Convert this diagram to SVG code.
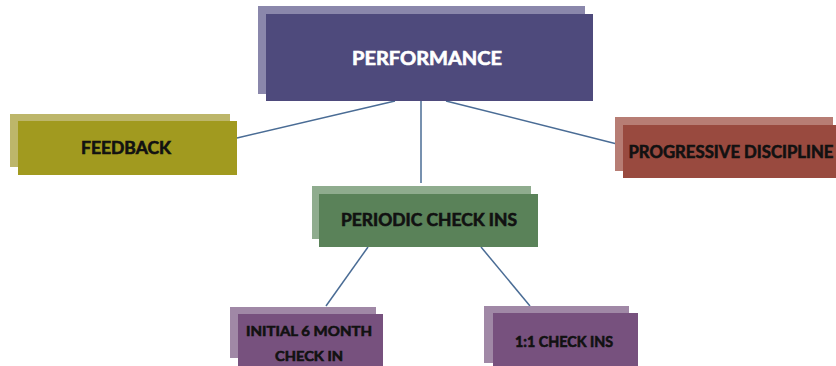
<svg xmlns="http://www.w3.org/2000/svg" width="836" height="366" viewBox="0 0 836 366">
<style>
.lbl{font-family:Lato,"Open Sans","Liberation Sans",sans-serif;font-weight:bold;text-anchor:middle;fill:#111;stroke:#111;stroke-width:0.6}
.w{fill:#fff;stroke:#fff}
.c{stroke:#4a6c95;stroke-width:1.5;fill:none}
</style>
<rect width="836" height="366" fill="#fff"/>
<g id="connectors">
<line class="c" x1="395" y1="101" x2="237" y2="138"/>
<line class="c" x1="421" y1="101" x2="421" y2="183"/>
<line class="c" x1="446" y1="101" x2="617" y2="144"/>
<line class="c" x1="368" y1="247" x2="326" y2="306"/>
<line class="c" x1="481" y1="247" x2="530" y2="306"/>
</g>
<g id="performance">
<rect x="258" y="6" width="327" height="88" fill="#8a87ab"/>
<rect x="266" y="14" width="327" height="87" fill="#4e4a7c"/>
<text class="lbl w" x="427" y="65" font-size="18" textLength="150" lengthAdjust="spacingAndGlyphs">PERFORMANCE</text>
</g>
<g id="feedback">
<rect x="10" y="114" width="220" height="53" fill="#bdb66a"/>
<rect x="18" y="121" width="219" height="54" fill="#a19a1f"/>
<text class="lbl" x="126" y="154" font-size="16.5" textLength="90" lengthAdjust="spacingAndGlyphs">FEEDBACK</text>
</g>
<g id="progressive">
<rect x="615" y="117" width="218" height="54" fill="#b77d74"/>
<rect x="623" y="125" width="220" height="53" fill="#994a3f"/>
<text class="lbl" x="731" y="158" font-size="16.5" textLength="205" lengthAdjust="spacingAndGlyphs">PROGRESSIVE DISCIPLINE</text>
</g>
<g id="periodic">
<rect x="312" y="186" width="219" height="53" fill="#8fac8e"/>
<rect x="319" y="194" width="219" height="53" fill="#5a8259"/>
<text class="lbl" x="429" y="226" font-size="16.5" textLength="176" lengthAdjust="spacingAndGlyphs">PERIODIC CHECK INS</text>
</g>
<g id="initial">
<rect x="230" y="307" width="146" height="51" fill="#a088a6"/>
<rect x="238" y="314" width="145" height="60" fill="#77517e"/>
<text class="lbl" x="309" y="336" font-size="14" textLength="126" lengthAdjust="spacingAndGlyphs">INITIAL 6 MONTH</text>
<text class="lbl" x="309" y="361" font-size="14" textLength="68" lengthAdjust="spacingAndGlyphs">CHECK IN</text>
</g>
<g id="oneonone">
<rect x="484" y="306" width="145" height="57" fill="#a088a6"/>
<rect x="493" y="313" width="145" height="60" fill="#77517e"/>
<text class="lbl" x="564" y="347" font-size="14.5" textLength="98" lengthAdjust="spacingAndGlyphs">1:1 CHECK INS</text>
</g>
</svg>
